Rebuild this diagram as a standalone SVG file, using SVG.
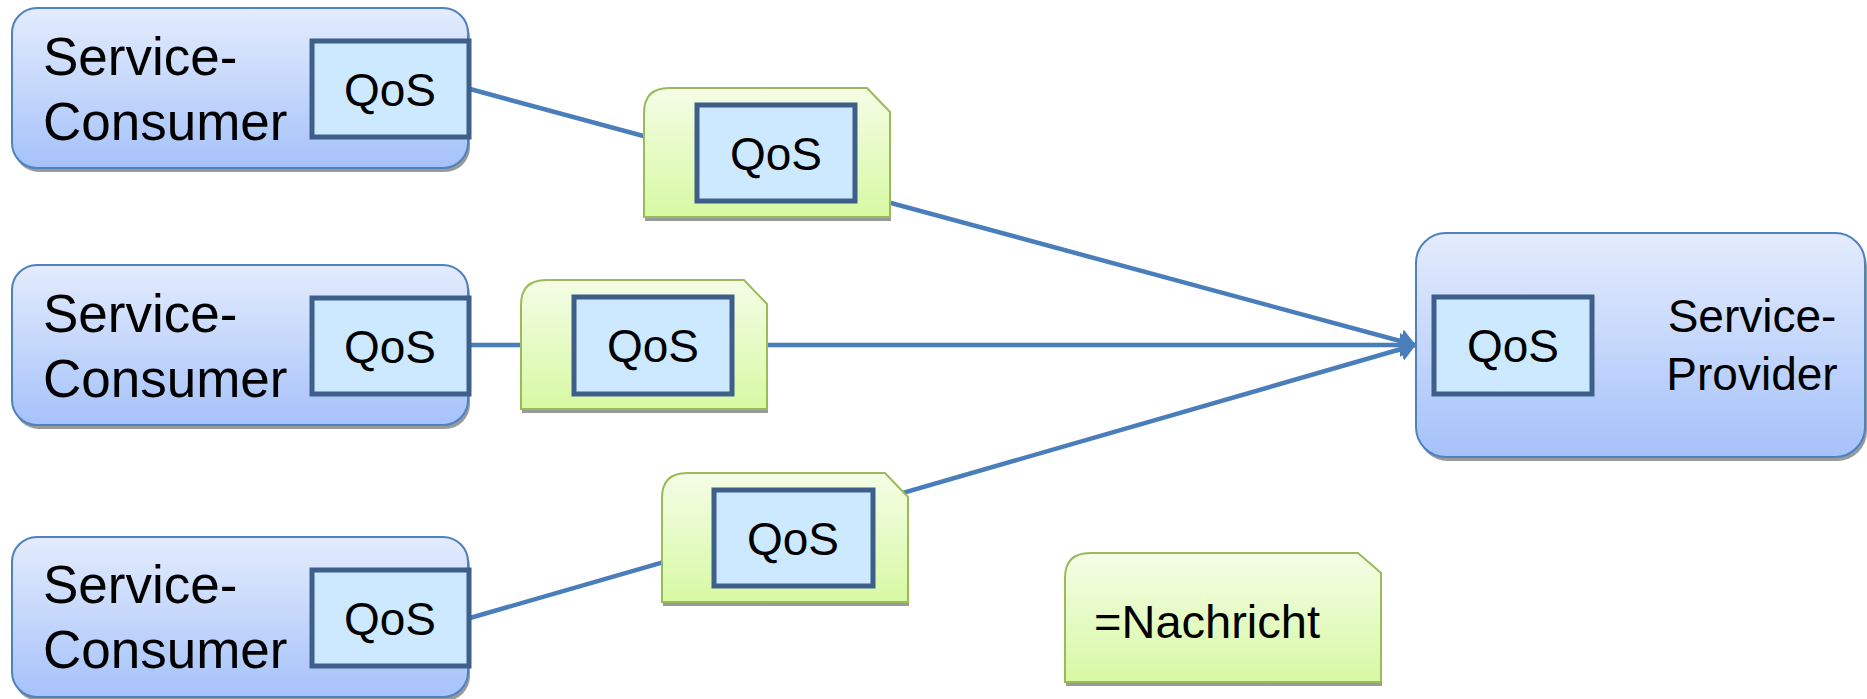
<svg xmlns="http://www.w3.org/2000/svg" width="1867" height="699" viewBox="0 0 1867 699">
<defs>
<linearGradient id="gBlue" x1="0" y1="0" x2="0" y2="1">
<stop offset="0" stop-color="#e4ecfd"/>
<stop offset="1" stop-color="#a5c2fa"/>
</linearGradient>
<linearGradient id="gGreen" x1="0" y1="0" x2="0" y2="1">
<stop offset="0" stop-color="#f4fde6"/>
<stop offset="1" stop-color="#d7f9a3"/>
</linearGradient>
<marker id="arr" viewBox="0 0 16 24" refX="15" refY="12" markerWidth="16" markerHeight="24" markerUnits="userSpaceOnUse" orient="auto">
<path d="M0,0 L16,12 L0,24 Z" fill="#4a7ebb"/>
</marker>
<path id="msg" d="M0,25 Q0,0 25,0 L223,0 L246,24 L246,129 L0,129 Z"/>
</defs>
<style>
.box{fill:url(#gBlue);stroke:#4f81bd;stroke-width:2}
.shadow{fill:#9a9a9a}
.qos{fill:#cce9ff;stroke:#3d5f8a;stroke-width:5}
.msg{fill:url(#gGreen);stroke:#9bbb59;stroke-width:2}
.t{font-family:"Liberation Sans",Arial,sans-serif;fill:#000}
.big{font-size:53px}
.mid{font-size:46px}
.leg{font-size:47px}
.conn{stroke:#4a7ebb;stroke-width:4.5;fill:none}
</style>

<g id="connectors">
<line class="conn" x1="470" y1="89" x2="1415" y2="345" marker-end="url(#arr)"/>
<line class="conn" x1="470" y1="345" x2="1415" y2="345" marker-end="url(#arr)"/>
<line class="conn" x1="470" y1="618" x2="1415" y2="345" marker-end="url(#arr)"/>
</g>

<g id="consumer1">
<rect class="shadow" x="14" y="12" width="456" height="160" rx="25"/>
<rect class="box" x="12" y="8" width="456" height="160" rx="25"/>
<text class="t big" x="43" y="75">Service-</text>
<text class="t big" x="43" y="140">Consumer</text>
<rect class="qos" x="312" y="41" width="157" height="96"/>
<text class="t mid" x="390" y="106" text-anchor="middle">QoS</text>
</g>

<g id="consumer2">
<rect class="shadow" x="14" y="269" width="456" height="160" rx="25"/>
<rect class="box" x="12" y="265" width="456" height="160" rx="25"/>
<text class="t big" x="43" y="332">Service-</text>
<text class="t big" x="43" y="397">Consumer</text>
<rect class="qos" x="312" y="298" width="157" height="96"/>
<text class="t mid" x="390" y="363" text-anchor="middle">QoS</text>
</g>

<g id="consumer3">
<rect class="shadow" x="14" y="541" width="456" height="160" rx="25"/>
<rect class="box" x="12" y="537" width="456" height="160" rx="25"/>
<text class="t big" x="43" y="603">Service-</text>
<text class="t big" x="43" y="668">Consumer</text>
<rect class="qos" x="312" y="570" width="157" height="96"/>
<text class="t mid" x="390" y="635" text-anchor="middle">QoS</text>
</g>

<g id="provider">
<rect class="shadow" x="1418" y="237" width="449" height="224" rx="30"/>
<rect class="box" x="1416" y="233" width="449" height="224" rx="30"/>
<rect class="qos" x="1434" y="297" width="158" height="97"/>
<text class="t mid" x="1513" y="362" text-anchor="middle">QoS</text>
<text class="t mid" x="1752" y="332" text-anchor="middle">Service-</text>
<text class="t mid" x="1752" y="390" text-anchor="middle">Provider</text>
</g>

<g id="message1">
<use href="#msg" class="shadow" x="645" y="92"/>
<use href="#msg" class="msg" x="644" y="88"/>
<rect class="qos" x="697" y="105" width="158" height="96"/>
<text class="t mid" x="776" y="170" text-anchor="middle">QoS</text>
</g>

<g id="message2">
<use href="#msg" class="shadow" x="522" y="284"/>
<use href="#msg" class="msg" x="521" y="280"/>
<rect class="qos" x="574" y="297" width="158" height="97"/>
<text class="t mid" x="653" y="362" text-anchor="middle">QoS</text>
</g>

<g id="message3">
<use href="#msg" class="shadow" x="663" y="477"/>
<use href="#msg" class="msg" x="662" y="473"/>
<rect class="qos" x="714" y="490" width="159" height="96"/>
<text class="t mid" x="793" y="555" text-anchor="middle">QoS</text>
</g>

<g id="legend">
<path class="shadow" d="M1066,582 Q1066,557 1091,557 L1359,557 L1382,577 L1382,686 L1066,686 Z"/>
<path class="msg" d="M1065,578 Q1065,553 1090,553 L1358,553 L1381,573 L1381,682 L1065,682 Z"/>
<text class="t leg" x="1094" y="638">=Nachricht</text>
</g>
</svg>
